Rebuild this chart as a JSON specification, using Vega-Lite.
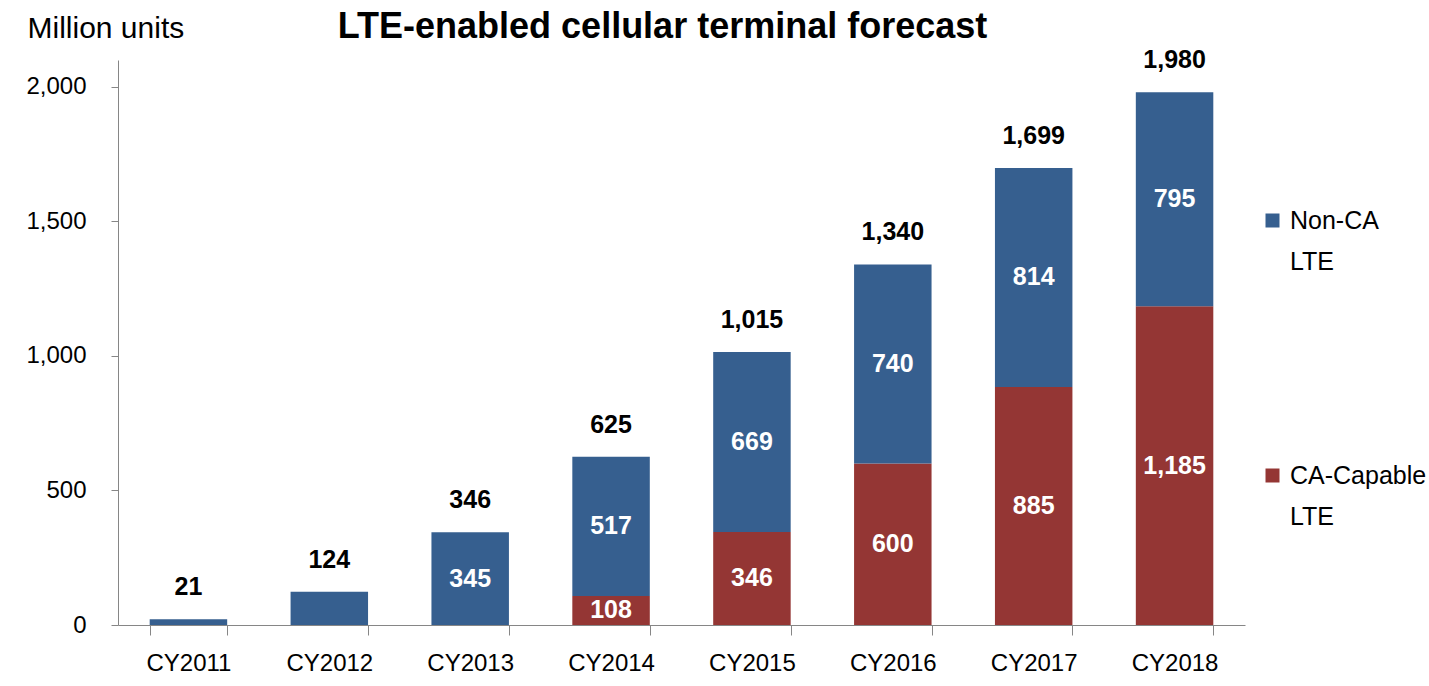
{
  "$schema": "https://vega.github.io/schema/vega-lite/v6.json",
  "autosize": {"type": "none"},
  "padding": {"left": 118, "top": 60, "right": 184, "bottom": 61},
  "width": 1127,
  "height": 565,
  "background": "white",
  "title": {
    "text": "LTE-enabled cellular terminal forecast",
    "font": "Liberation Sans",
    "fontSize": 36,
    "fontWeight": "bold",
    "color": "black",
    "anchor": "middle",
    "dx": -19,
    "offset": -33
  },
  "config": {
    "view": {"stroke": null},
    "font": "Liberation Sans",
    "style": {"guide-label": {"lineHeight": 41}}
  },
  "datasets": {
    "series": [
      {"year": "CY2011", "type": "Non-CA LTE", "value": 21},
      {"year": "CY2012", "type": "Non-CA LTE", "value": 124},
      {"year": "CY2013", "type": "Non-CA LTE", "value": 345},
      {"year": "CY2014", "type": "CA-Capable LTE", "value": 108},
      {"year": "CY2014", "type": "Non-CA LTE", "value": 517},
      {"year": "CY2015", "type": "CA-Capable LTE", "value": 346},
      {"year": "CY2015", "type": "Non-CA LTE", "value": 669},
      {"year": "CY2016", "type": "CA-Capable LTE", "value": 600},
      {"year": "CY2016", "type": "Non-CA LTE", "value": 740},
      {"year": "CY2017", "type": "CA-Capable LTE", "value": 885},
      {"year": "CY2017", "type": "Non-CA LTE", "value": 814},
      {"year": "CY2018", "type": "CA-Capable LTE", "value": 1185},
      {"year": "CY2018", "type": "Non-CA LTE", "value": 795}
    ],
    "totals": [
      {"year": "CY2011", "total": 21},
      {"year": "CY2012", "total": 124},
      {"year": "CY2013", "total": 346},
      {"year": "CY2014", "total": 625},
      {"year": "CY2015", "total": 1015},
      {"year": "CY2016", "total": 1340},
      {"year": "CY2017", "total": 1699},
      {"year": "CY2018", "total": 1980}
    ]
  },
  "encoding": {
    "x": {
      "field": "year",
      "type": "nominal",
      "scale": {"paddingInner": 0.45, "paddingOuter": 0.225},
      "axis": {
        "title": null,
        "labelAngle": 0,
        "labelFont": "Liberation Sans",
        "labelFontSize": 24,
        "labelColor": "black",
        "labelPadding": 16,
        "tickBand": "extent",
        "tickSize": 10,
        "tickColor": "#868686",
        "domainColor": "#868686",
        "labelBaseline": "top"
      }
    }
  },
  "layer": [
    {
      "data": {"name": "series"},
      "transform": [
        {"stack": "value", "groupby": ["year"], "sort": [{"field": "type", "order": "ascending"}], "as": ["y0", "y1"]},
        {"calculate": "(datum.y0 + datum.y1) / 2", "as": "mid"}
      ],
      "layer": [
        {
          "mark": {"type": "bar"},
          "encoding": {
            "y": {
              "field": "y1",
              "type": "quantitative",
              "scale": {"domain": [0, 2100], "nice": false},
              "axis": {
                "title": "Million units",
                "titleAngle": 0,
                "titleFont": "Liberation Sans",
                "titleFontSize": 30,
                "titleFontWeight": "normal",
                "titleColor": "black",
                "titleAlign": "left",
                "titleBaseline": "alphabetic",
                "titleX": -91,
                "titleY": -23,
                "values": [0, 500, 1000, 1500, 2000],
                "format": ",.0f",
                "labelFont": "Liberation Sans",
                "labelFontSize": 24,
                "labelColor": "black",
                "labelPadding": 25,
                "tickSize": 7,
                "tickColor": "#868686",
                "domainColor": "#868686",
                "grid": false
              }
            },
            "y2": {"field": "y0"},
            "color": {
              "field": "type",
              "type": "nominal",
              "scale": {"domain": ["Non-CA LTE", "CA-Capable LTE"], "range": ["#365F8F", "#943634"]},
              "legend": {
                "title": null,
                "orient": "none",
                "legendX": 1142,
                "legendY": 148,
                "symbolType": "square",
                "symbolSize": 196,
                "symbolStrokeWidth": 0,
                "labelFont": "Liberation Sans",
                "labelFontSize": 25,
                "labelColor": "black",
                "labelOffset": 5,
                "labelBaseline": "middle",
                "rowPadding": 188,
                "labelExpr": "datum.label == 'Non-CA LTE' ? ['Non-CA', 'LTE'] : ['CA-Capable', 'LTE']"
              }
            }
          }
        },
        {
          "transform": [{"filter": "datum.value >= 100 && datum.year != 'CY2012'"}],
          "mark": {"type": "text", "color": "white", "fontSize": 25, "fontWeight": "bold", "font": "Liberation Sans", "baseline": "middle"},
          "encoding": {
            "y": {"field": "mid", "type": "quantitative"},
            "text": {"field": "value", "type": "quantitative", "format": ","}
          }
        }
      ]
    },
    {
      "data": {"name": "totals"},
      "mark": {"type": "text", "color": "black", "fontSize": 25, "fontWeight": "bold", "font": "Liberation Sans", "baseline": "bottom", "dy": -19},
      "encoding": {
        "y": {"field": "total", "type": "quantitative"},
        "text": {"field": "total", "type": "quantitative", "format": ","}
      }
    }
  ]
}
